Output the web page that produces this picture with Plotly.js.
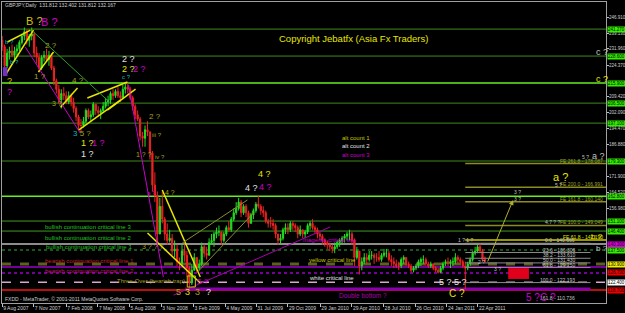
<!DOCTYPE html>
<html><head><meta charset="utf-8">
<script src="https://cdn.plot.ly/plotly-3.0.1.min.js"></script>
<style>html,body{margin:0;padding:0;background:#000;}#chart{width:625px;height:313px;}</style>
</head><body><div id="chart"></div>
<script>
// ---- weekly price bars (GBPJPY) ----
const barStart = '2007-08-09';
const firstOpen = 236;
const barHigh = [238,234,232,233,234,233,234,236,239,242,241,239,242,240,233,230,229,231,232,231,230,224,218,215,213,214,212,212,211,209,205,201,199,200,204,204,203,207,206,205,204,207,209,210,212,213,213,214,212,215,216,216,214,210,206,203,200,193,196,198,193,184,174,165,162,165,153,150,147,145,142,140,134,140,140,137,130,131,136,134,133,141,140,139,143,145,146,148,149,146,146,149,151,153,157,160,162,161,159,159,156,155,157,160,163,159,158,156,152,153,152,150,145,145,148,150,150,151,151,150,149,149,147,147,150,151,152,149,148,146,145,143,142,141,140,141,142,143,144,145,146,147,146,143,139,137,134,136,136,137,137,136,136,137,136,138,138,137,135,134,133,132,134,135,134,132,131,130,131,133,134,135,134,132,132,131,130,129,130,132,133,134,133,134,136,135,134,133,132,132,134,137,139,140,140.7,138,134.5];
const barLow  = [231,220,223,227,228,226,229,231,234,236,234,233,236,228,225,221,222,226,226,224,222,215,211,206,204,208,206,206,205,202,198,194,193,195,197,199,198,200,201,200,199,202,204,205,206,208,209,209,207,209,211,211,208,203,199,198,189,186,186,191,180,165,160,139,145,150,142,140,141,135,134,130,128,130,132,125,119,121,128,127,128,130,134,133,135,140,139,143,144,140,141,144,146,146,151,154,156,153,154,153,148,150,152,155,157,154,153,150,148,148,147,143,140,140,142,145,145,146,147,146,143,144,143,143,145,147,147,145,143,142,140,139,138,137,136,136,138,139,140,141,142,142,140,130,133,126,128,131,131,132,133,131,132,132,132,134,134,132,130,129,129,128,129,131,130,129,127,127,128,129,130,131,130,129,129,128,127,126.5,127,128,130,130,129,130,131,131,131,129,119,128,130,132,135,136,136,132,131.8];
const barClose= [233,224,230,231,229,231,232,235,238,240,236,238,239,230,228,223,228,229,227,229,223,217,213,208,211,210,207,210,207,204,200,196,196,198,203,200,201,206,203,202,203,205,207,208,211,210,212,210,209,213,214,213,209,205,201,199,191,190,194,193,183,168,163,145,158,152,145,142,143,137,138,132,131,137,135,129,122,128,134,129,131,139,136,135,141,142,145,146,146,142,145,148,147,152,155,157,160,155,158,155,150,154,156,159,158,156,155,151,150,150,149,145,142,143,147,148,147,150,149,148,145,147,145,146,149,150,148,147,145,144,142,141,140,139,138,139,141,142,143,144,145,145,142,134,137,130,132,134,133,135,135,134,134,133,135,136,136,133,132,131,130,130,133,134,131,130,128,129,130,132,133,133,131,130,131,129,128,127,129,131,132,131,132,132,134,133,132,130,129,131,133,136,137,139,137,133,132.2];

// ---- axis ticks ----
const dateTicks = ['2007-08-09','2007-11-07','2008-02-07','2008-05-07','2008-08-05','2008-11-03','2009-02-03','2009-05-04','2009-07-31','2009-10-29','2010-01-29','2010-04-29','2010-07-28','2010-10-26','2011-01-24','2011-04-22'];
const dateTickText = ['9 Aug 2007','7 Nov 2007','7 Feb 2008','7 May 2008','5 Aug 2008','3 Nov 2008','3 Feb 2009','4 May 2009','31 Jul 2009','29 Oct 2009','29 Jan 2010','29 Apr 2010','28 Jul 2010','26 Oct 2010','24 Jan 2011','22 Apr 2011'];
const priceTicks = [246.91,239.13,231.96,224.37,209.42,202.09,194.47,186.88,171.90,164.52,156.98,112.12];

// ---- horizontal price levels ----
const levelPrice = [241.27,228.60,215.90,206.50,197.10,179.30,162.80,151.10,146.40,140.30,137.50,130.90,129.50,126.70,122.40,118.70];
const levelColor = ['#3f8a1c','#3f8a1c','#66ee22','#3f8a1c','#3f8a1c','#3f8a1c','#66ee22','#3f9a22','#3f9a22','#bdbdbd','#2fae2f','#5e5e22','#9900cc','#9900cc','#d8a8c8','#ff1010'];
const levelWidth = [1,1,1.5,1,1,1,1.5,1,1,1.5,1,3,1.5,1.5,1.5,1.5];
const levelDash  = ['solid','solid','solid','solid','solid','solid','solid','solid','solid','solid','dot','dash','solid','dot','dash','solid'];
const levelTag   = ['#33ee00','#33ee00','#33ee00','#33ee00','#33ee00','#33ee00','#33ee00','#33ee00','#33ee00','#dd00dd','#33ee00','#eeee00','','#ee0000','#ffffff','#ee0000'];

// ---- Fibonacci expansion / retracement ----
const feRatio = ['261.8','200.0','161.8','100.0','61.8'];
const fePrice = [178.087,166.991,160.140,149.049,142.190];
const frRatio = ['0.0','23.6','38.2','50.0','61.8','100.0','161.8'];
const frPrice = [140.666,136.306,133.610,131.430,129.250,122.193,110.736];

// ---- trend lines drawn on the chart ----
const tlX0 = ['2007-08-18','2007-08-24','2007-11-20','2008-01-22','2008-04-07','2008-06-03','2008-03-13','2008-11-06','2008-09-25','2009-01-02','2009-02-14','2007-11-06','2007-10-14','2008-08-02','2008-12-08'];
const tlY0 = [219.7,235.2,221.1,204.6,208.9,203.2,193.8,165.7,145.5,140.8,127.1,239.9,232.8,215.0,116.3];
const tlX1 = ['2007-11-06','2007-10-28','2008-01-02','2008-03-10','2008-07-30','2008-08-22','2008-07-10','2009-02-22','2009-02-22','2009-07-06','2009-07-23','2008-06-12','2008-03-18','2008-11-09','2010-02-26'];
const tlY1 = [240.8,240.8,230.5,213.6,216.4,213.1,207.9,124.8,122.0,161.0,154.9,206.5,192.4,124.8,148.3];
const tlCol = ['#e6e600','#e6e600','#e6e600','#e6e600','#e6e600','#e6e600','#e6e600','#e6e600','#e6e600','#8c8c30','#8c8c30','#2e9e2e','#cc00cc','#cc00cc','#aa00aa'];

// ---- build ----
const dates = barClose.map((_, i) => { const d = new Date(barStart + 'T00:00:00Z'); d.setUTCDate(d.getUTCDate() + 7 * i); return d.toISOString().slice(0, 10); });
const opens = barClose.map((c, i) => i === 0 ? firstOpen : barClose[i - 1]);

const F = 'Liberation Sans, Arial, sans-serif';
const shapes = [];
const annotations = [];
const RIGHT = '2012-04-20';

// price-axis labels (drawn at the right edge, like the terminal)
priceTicks.forEach(v => annotations.push({xref:'paper', x:1, xshift:2, xanchor:'left', yref:'y', y:v, yanchor:'middle', showarrow:false, text:v.toFixed(3), font:{family:F, size:4.5, color:'#d0d0d0'}, borderpad:0}));

levelPrice.forEach((p, i) => {
  shapes.push({type:'line', xref:'paper', x0:0, x1:1, yref:'y', y0:p, y1:p, line:{color:levelColor[i], width:levelWidth[i], dash:levelDash[i]}, layer:'below'});
  if (levelTag[i]) annotations.push({xref:'paper', x:1, xshift:1, xanchor:'left', yref:'y', y:p, yanchor:'middle', showarrow:false, text:p.toFixed(3), bgcolor:levelTag[i], font:{family:F, size:4.5, color:'#000'}, borderpad:0});
});
// thick purple double-bottom line
shapes.push({type:'line', xref:'x', x0:'2009-01-10', x1:'2012-03-07', yref:'y', y0:119.2, y1:119.2, line:{color:'#8a00b0', width:3}, layer:'below'});
// fibo expansion lines
fePrice.forEach((p, i) => {
  shapes.push({type:'line', xref:'x', x0:'2011-03-17', x1:RIGHT, yref:'y', y0:p, y1:p, line:{color: i === 4 ? '#c8c800' : '#8c8c20', width:1.5}});
  annotations.push({xref:'paper', x:1, xshift:-1, xanchor:'right', yref:'y', y:p, yshift:3, yanchor:'middle', showarrow:false, text:'FE ' + feRatio[i] + ' - ' + p.toFixed(3), font:{family:F, size:5, color: i === 4 ? '#e6e600' : '#a0a030'}});
});
// fibo retracement
frPrice.forEach((p, i) => {
  if (p > 112.6) shapes.push({type:'line', xref:'x', x0:'2011-03-17', x1:'2012-03-07', yref:'y', y0:p, y1:p, line:{color:'#8c8c8c', width:1}});
  annotations.push({xref:'x', x:'2012-01-28', xanchor:'right', yref:'y', y: p > 112.6 ? p : 113.4, yshift:3, yanchor:'middle', showarrow:false, text:frRatio[i] + ' - ' + p.toFixed(3), font:{family:F, size:5, color:'#c8c8c8'}});
});
// trend lines
tlX0.forEach((x, i) => shapes.push({type:'line', xref:'x', yref:'y', x0:x, y0:tlY0[i], x1:tlX1[i], y1:tlY1[i], line:{color:tlCol[i], width: tlCol[i] === '#e6e600' ? 1.5 : 1}}));
// rectangles
shapes.push({type:'rect', xref:'x', yref:'y', x0:'2011-07-17', x1:'2011-09-14', y0:123.9, y1:129.0, fillcolor:'#e0001b', line:{width:0}});
shapes.push({type:'rect', xref:'x', yref:'y', x0:'2007-08-11', x1:'2007-08-24', y0:219.2, y1:223.4, fillcolor:'#7030c0', line:{width:0}});
shapes.push({type:'rect', xref:'x', yref:'y', x0:'2009-01-16', x1:'2009-02-08', y0:120.1, y1:125.3, fillcolor:'rgba(0,0,0,0)', line:{color:'#c8c800', width:1}});
// arrow
annotations.push({xref:'x', yref:'y', x:'2011-07-31', y:161.0, ax:'2011-05-18', ay:131.4, axref:'x', ayref:'y', showarrow:true, arrowhead:2, arrowsize:1, arrowwidth:1, arrowcolor:'#b0b030', text:''});

// text labels (pixel positions on the 625x313 picture)
const px = x => (x - 2) / 604, py = y => (303 - y) / 301;
const T = (t, x, y, c, s) => annotations.push({xref:'paper', yref:'paper', x:px(x), y:py(y), xanchor:'left', yanchor:'middle', showarrow:false, text:t, font:{family:F, size:s, color:c}});
const GOLD = '#e6e600', OL = '#a8a020', WH = '#e0e0e0', MG = '#cc00cc', CY = '#00bcbc', GR = '#22c022';
T('GBPJPY,Daily  131.812 132.402 131.812 132.167', 3, 5, '#d0d0d0', 5);
T('Copyright Jebatfx (Asia Fx Traders)', 277, 38, GOLD, 9.5);
T('B ?', 24, 21, '#d4c000', 11); T('B ?', 39, 22, MG, 11);
T('?', 5, 81, '#d4c000', 9); T('?', 5, 92, MG, 9);
T('b ?', 3, 42, CY, 6); T('b ?', 8, 62, CY, 6);
T('2 ?', 43, 45, OL, 8); T('1 ?', 32, 77, OL, 8); T('4 ?', 70, 80, OL, 8); T('3 ?', 50, 103, OL, 7);
T('<span style="color:#00bcbc">3</span> 5 ?', 71, 133, OL, 8);
T('1 ?', 79, 143, GOLD, 9); T('1 ?', 90, 143, MG, 9); T('1 ?', 79, 154, WH, 9);
T('2 ?', 120, 59, WH, 9); T('2 ?', 120, 69, GOLD, 9); T('2 ?', 131, 69, MG, 9);
T('c ?', 120, 77, CY, 6);
T('2 ?', 147, 117, OL, 8); T('iii ?', 150, 135, OL, 6); T('1 ? ?', 134, 154, OL, 7); T('iv ?', 153, 157, OL, 6);
T('4 ?', 163, 192, OL, 7); T('a ?', 145, 193, MG, 6);
T('4 ?', 256, 174, GOLD, 9); T('4 ?', 243, 188, WH, 9); T('4 ?', 257, 187, MG, 9);
T('alt count 1', 340, 138, '#c8c800', 6); T('alt count 2', 340, 146, WH, 6); T('alt count 3', 340, 155, MG, 6);
T('c ?', 594, 52, '#c0c0c0', 9); T('c ?', 594, 79, GOLD, 9);
T('5 ?', 580, 157, '#c0c0c0', 5); T('a ?', 590, 156, '#c0c0c0', 9);
T('a ?', 551, 177, GOLD, 11); T('5 ?', 553, 185, '#c0c0c0', 5);
T('3 ?', 512, 192, '#c0c0c0', 5); T('3 ?', 512, 199, '#c0c0c0', 5); T('4.7 ? ?', 543, 222, '#c0c0c0', 5);
T('b ?', 589, 236, GOLD, 8); T('b ?', 594, 249, '#c0c0c0', 8);
T('1 ? 1 ?', 456, 240, '#c0c0c0', 5); T('2 ?', 476, 262, '#c0c0c0', 5); T('3 ?', 492, 269, '#c0c0c0', 5);
T('bullish continuation critical line 3', 43, 227, GR, 6);
T('bullish continuation critical line 2', 43, 238, GR, 6);
T('bullish continuation critical line 1', 44, 247, GR, 6);
T('3 ? ? ?', 140, 246, OL, 7);
T('bearish continuation critical line 1', 43, 261, '#cc2020', 6);
T('bearish continuation critical line 2', 43, 271, '#cc1070', 6);
T('Three-Over (bearish trap)', 115, 281, OL, 6);
T('5', 174, 292, OL, 9); T('3', 183, 292, GOLD, 9); T('3', 193, 292, OL, 9); T('?', 204, 292, WH, 9);
T('5 ?', 195, 281, MG, 8);
T('FXDD - MetaTrader, © 2001-2011 MetaQuotes Software Corp.', 3, 299, '#d0d0d0', 5);
T('magenta critical line', 301, 240, MG, 6);
T('yellow critical line', 307, 260, '#c8c800', 6);
T('white critical line', 307, 278, WH, 6);
T('Double bottom ?', 337, 295, '#aa00aa', 6.5);
T('5 ? 5 ?', 437, 282, WH, 9);
T('C ?', 447, 293, GOLD, 10);
T('5 ?C ?', 524, 297, MG, 10);

const trace = {type:'candlestick', x:dates, open:opens, high:barHigh, low:barLow, close:barClose,
  increasing:{line:{color:'#22dd22', width:1}, fillcolor:'#22dd22'},
  decreasing:{line:{color:'#ee2222', width:1}, fillcolor:'#ee2222'},
  whiskerwidth:0, hoverinfo:'skip', showlegend:false};

const layout = {
  width:625, height:313, margin:{l:2, r:19, t:2, b:10},
  paper_bgcolor:'#000', plot_bgcolor:'#000', showlegend:false,
  xaxis:{type:'date', range:['2007-08-08 12:00', RIGHT], rangeslider:{visible:false}, showgrid:false, zeroline:false,
    tickvals:dateTicks, ticktext:dateTickText, tickangle:0, ticks:'outside', ticklen:3, tickcolor:'#c0c0c0', ticklabelposition:'outside right',
    tickfont:{family:F, size:5, color:'#d0d0d0'}, showline:true, linecolor:'#a0a0a0', mirror:true, automargin:false},
  yaxis:{side:'right', range:[112.6, 254.0], showgrid:false, zeroline:false, tickvals:priceTicks, showticklabels:false,
    ticks:'outside', ticklen:2, tickcolor:'#c0c0c0', showline:true, linecolor:'#a0a0a0', mirror:true, automargin:false},
  shapes:shapes, annotations:annotations
};
Plotly.newPlot('chart', [trace], layout, {staticPlot:true, displayModeBar:false});
</script></body></html>
